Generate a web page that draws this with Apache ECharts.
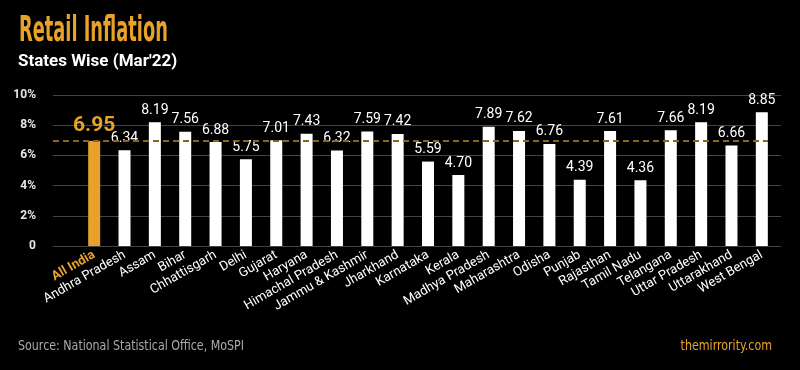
<!DOCTYPE html>
<html><head><meta charset="utf-8">
<script src="https://cdn.jsdelivr.net/npm/echarts@6/dist/echarts.min.js"></script>
<style>html,body{margin:0;padding:0;background:#000}#c{width:800px;height:370px}</style>
</head><body><div id="c"></div>
<script>
const categories = ['All India','Andhra Pradesh','Assam','Bihar','Chhattisgarh','Delhi','Gujarat','Haryana','Himachal Pradesh','Jammu & Kashmir','Jharkhand','Karnataka','Kerala','Madhya Pradesh','Maharashtra','Odisha','Punjab','Rajasthan','Tamil Nadu','Telangana','Uttar Pradesh','Uttarakhand','West Bengal'];
const values = [6.95,6.34,8.19,7.56,6.88,5.75,7.01,7.43,6.32,7.59,7.42,5.59,4.70,7.89,7.62,6.76,4.39,7.61,4.36,7.66,8.19,6.66,8.85];
const yTicks = [0,2,4,6,8,10];

const GOLD = '#E8A22A';
const chart = echarts.init(document.getElementById('c'));
const data = values.map((v,i)=> i===0 ? {value:v, itemStyle:{color:GOLD}, label:{color:GOLD, fontSize:21, fontWeight:'bold'}} : v);
const yMin = yTicks[0], yMax = yTicks[yTicks.length-1];

chart.setOption({
  backgroundColor:'#000',
  animation:false,
  grid:[
    {left:53, right:19, top:95, bottom:124},
    {left:79, right:23, top:95, bottom:124},
    {left:53, right:32, top:95, bottom:124}
  ],
  xAxis:[
    {type:'category', gridIndex:0, data:[''], show:false},
    {type:'category', gridIndex:1, data:categories,
     axisLine:{show:false}, axisTick:{show:false},
     axisLabel:{interval:0, rotate:30, color:'#fff', fontFamily:'Roboto', fontSize:13, margin:8,
       formatter:(v)=> v==='All India' ? '{a|'+v+'}' : v,
       rich:{a:{color:GOLD, fontWeight:'bold', fontFamily:'Roboto', fontSize:13}}}},
    {type:'category', gridIndex:2, data:[''], show:false}
  ],
  yAxis:[
    {type:'value', gridIndex:0, min:yMin, max:yMax, interval:2,
     axisLine:{show:false}, axisTick:{show:false},
     splitLine:{lineStyle:{color:'#444', width:1}},
     axisLabel:{color:'#e6e6e6', fontFamily:'Roboto', fontWeight:'bold', fontSize:12, margin:17,
       formatter:(v)=> v===0 ? '0' : v+'%'}},
    {type:'value', gridIndex:1, min:yMin, max:yMax, interval:2, show:false},
    {type:'value', gridIndex:2, min:yMin, max:yMax, interval:2, show:false}
  ],
  series:[
    {type:'line', xAxisIndex:2, yAxisIndex:2, data:[null], silent:true,
     markLine:{symbol:'none', silent:true, label:{show:false},
       lineStyle:{color:'#8a6420', type:[6,4], width:2},
       data:[{yAxis:values[0]}]}},
    {type:'bar', xAxisIndex:1, yAxisIndex:1, data:data, barWidth:12,
     itemStyle:{color:'#fff'},
     label:{show:true, position:'top', color:'#fff', fontFamily:'Roboto', fontSize:14, distance:5,
       formatter:(p)=> p.value.toFixed(2)}}
  ],
  graphic:[
    {type:'text', x:19, y:14, scaleX:0.55, style:{text:'Retail Inflation', fill:GOLD, font:'bold 36px "Liberation Sans Narrow", "DejaVu Sans Condensed", sans-serif'}},
    {type:'text', x:18, y:53, style:{text:"States Wise (Mar'22)", fill:'#fff', font:'bold 17px Roboto, sans-serif'}},
    {type:'text', x:18, y:339, scaleX:0.88, style:{text:'Source: National Statistical Office, MoSPI', fill:'#aaaaaa', font:'14px "Liberation Sans Narrow", "DejaVu Sans Condensed", sans-serif'}},
    {type:'text', x:772, y:339, scaleX:0.88, style:{text:'themirrority.com', align:'right', fill:GOLD, font:'14px "Liberation Sans Narrow", "DejaVu Sans Condensed", sans-serif'}}
  ]
});
</script></body></html>
